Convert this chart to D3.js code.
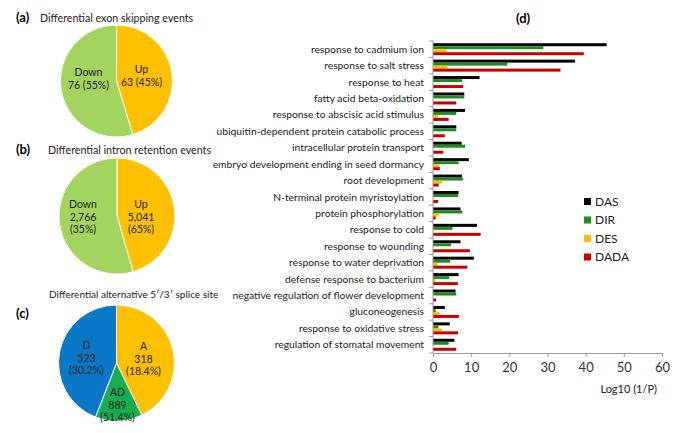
<!DOCTYPE html>
<html>
<head>
<meta charset="utf-8">
<script src="https://cdn.jsdelivr.net/npm/d3@7"></script>
<style>
  body { margin: 0; background: #fff; }
  svg { font-family: Lato, "Open Sans", sans-serif; }
</style>
</head>
<body>
<div id="chart"></div>
<script>
// panel (d) data
var terms = ["response to cadmium ion", "response to salt stress", "response to heat",
    "fatty acid beta-oxidation", "response to abscisic acid stimulus",
    "ubiquitin-dependent protein catabolic process", "intracellular protein transport",
    "embryo development ending in seed dormancy", "root development",
    "N-terminal protein myristoylation", "protein phosphorylation", "response to cold",
    "response to wounding", "response to water deprivation", "defense response to bacterium",
    "negative regulation of flower development", "gluconeogenesis",
    "response to oxidative stress", "regulation of stomatal movement"];
var seriesNames = ["DAS", "DIR", "DES", "DADA"];
var das  = [45.5, 37.2, 12.2, 8.2, 8.4, 6.1, 7.5, 9.4, 7.6, 6.7, 7.2, 11.5, 7.2, 10.7, 6.7, 5.9, 3.1, 4.4, 5.6];
var dir  = [28.9, 19.5, 7.6, 8.2, 6.1, 6.1, 8.4, 6.7, 7.8, 6.6, 7.7, 5.1, 4.7, 4.5, 4.2, 6.1, 0.7, 1.4, 4.1];
var des  = [3.5, 3.7, 0, 0, 1.3, 0, 0, 1.6, 2.4, 0, 1.6, 0, 0, 1.2, 0.7, 0, 1.6, 2.4, 0];
var dada = [39.5, 33.4, 7.9, 6.1, 4.1, 3.1, 2.7, 1.8, 1.5, 1.3, 0.7, 12.5, 9.7, 9.0, 6.5, 0.8, 6.8, 6.6, 6.1];
var xTicks = [0, 10, 20, 30, 40, 50, 60];

// pie panels: label text, and slice shares as drawn
var pieA = ["Up", "Down"], pieAText = [["Up", "63 (45%)"], ["Down", "76 (55%)"]], pieAShare = [63, 76];
var pieB = ["Up", "Down"], pieBText = [["Up", "5,041", "(65%)"], ["Down", "2,766", "(35%)"]], pieBShare = [45.5, 54.5];
var pieC = ["A", "AD", "D"], pieCText = [["A", "318", "(18.4%)"], ["AD", "889", "(51.4%)"], ["D", "523", "(30.2%)"]], pieCShare = [42.8, 13.1, 44.1];

var W = 685, H = 433;
var svg = d3.select("#chart").append("svg")
    .attr("width", W)
    .attr("height", H);

var pieColors = {Up: "#ffc000", Down: "#a3d45e", A: "#ffc000", AD: "#18ad4f", D: "#0a78c6"};

function drawPie(cx, cy, r, names, shares, texts, labelPos) {
    var g = svg.append("g").attr("transform", "translate(" + cx + "," + cy + ")");
    var pie = d3.pie().sort(null).value(function(d) { return d; });
    var arc = d3.arc().innerRadius(0).outerRadius(r);
    g.selectAll("path")
        .data(pie(shares))
        .enter().append("path")
        .attr("d", arc)
        .attr("fill", function(d, i) { return pieColors[names[i]]; })
        .attr("stroke", "#fff")
        .attr("stroke-width", 1);
    texts.forEach(function(lines, i) {
        var t = g.append("text")
            .attr("text-anchor", "middle")
            .style("font-size", "10.5px")
            .attr("fill", "#222");
        lines.forEach(function(l, j) {
            t.append("tspan")
                .attr("x", labelPos[i][0])
                .attr("y", labelPos[i][1] + j * 12.5)
                .text(l);
        });
    });
}

function panelTitle(x, y, letter, tx, title) {
    svg.append("text").attr("x", x).attr("y", y)
        .style("font-size", "13px").style("font-weight", "bold").text(letter);
    svg.append("text").attr("x", tx).attr("y", y)
        .style("font-size", "10.7px").attr("fill", "#222").text(title);
}

panelTitle(16, 22, "(a)", 40, "Differential exon skipping events");
drawPie(116.5, 81, 56, pieA, pieAShare, pieAText, [[25, -8], [-28, -5]]);

panelTitle(16, 154, "(b)", 48, "Differential intron retention events");
drawPie(117, 216, 58, pieB, pieBShare, pieBText, [[24, -8], [-34, -8]]);

svg.append("text").attr("x", 16).attr("y", 318)
    .style("font-size", "13px").style("font-weight", "bold").text("(c)");
svg.append("text").attr("x", 49).attr("y", 298)
    .style("font-size", "10px").attr("fill", "#222").text("Differential alternative 5\u2032/3\u2032 splice site");
drawPie(116.5, 363, 58, pieC, pieCShare, pieCText, [[27, -13], [1, 33], [-30, -14]]);

// panel (d)
svg.append("text").attr("x", 516).attr("y", 23)
    .style("font-size", "13px").style("font-weight", "bold").text("(d)");

var plotLeft = 433, plotRight = 662, plotTop = 41, plotBottom = 353;
var x = d3.scaleLinear().domain([0, 60]).range([plotLeft, plotRight]);
var y = d3.scaleBand().domain(terms).range([plotTop, plotBottom])
    .paddingInner(0.27).paddingOuter(0.135);
var ySub = d3.scaleBand().domain(seriesNames).range([0, y.bandwidth()]);
var barColors = d3.scaleOrdinal().domain(seriesNames)
    .range(["#000000", "#1f8c1f", "#ffc000", "#c80000"]);

var rows = terms.map(function(t, i) {
    return {term: t, values: [das[i], dir[i], des[i], dada[i]]};
});

var groups = svg.append("g").selectAll("g")
    .data(rows)
    .enter().append("g")
    .attr("transform", function(d) { return "translate(0," + y(d.term) + ")"; });

groups.selectAll("rect")
    .data(function(d) {
        return d.values.map(function(v, i) { return {s: seriesNames[i], v: v}; });
    })
    .enter().append("rect")
    .attr("x", x(0))
    .attr("y", function(d) { return ySub(d.s); })
    .attr("width", function(d) { return x(d.v) - x(0); })
    .attr("height", ySub.bandwidth())
    .attr("fill", function(d) { return barColors(d.s); });

// y axis with ticks between categories
var yAxisG = svg.append("g");
yAxisG.append("line")
    .attr("x1", plotLeft).attr("x2", plotLeft).attr("y1", plotTop).attr("y2", plotBottom)
    .attr("stroke", "#999");
var step = y.step();
d3.range(terms.length + 1).forEach(function(i) {
    yAxisG.append("line")
        .attr("x1", plotLeft - 4).attr("x2", plotLeft)
        .attr("y1", plotTop + i * step).attr("y2", plotTop + i * step)
        .attr("stroke", "#999");
});
yAxisG.selectAll("text.cat")
    .data(terms)
    .enter().append("text")
    .attr("class", "cat")
    .attr("x", plotLeft - 9)
    .attr("y", function(d) { return y(d) + y.bandwidth() / 2 + 3.5; })
    .attr("text-anchor", "end")
    .style("font-size", "10.3px")
    .attr("fill", "#222")
    .text(function(d) { return d; });

var xAxis = svg.append("g")
    .attr("transform", "translate(0," + plotBottom + ")")
    .call(d3.axisBottom(x).tickValues(xTicks).tickSize(4).tickSizeOuter(0));
xAxis.select(".domain").attr("stroke", "#999");
xAxis.selectAll(".tick line").attr("stroke", "#999");
xAxis.selectAll(".tick text")
    .attr("dy", "0.9em")
    .style("font-size", "13px")
    .style("font-family", "Lato, sans-serif")
    .attr("fill", "#333");

svg.append("text")
    .attr("x", 657).attr("y", 393)
    .attr("text-anchor", "end")
    .style("font-size", "11px")
    .attr("fill", "#222")
    .text("Log10 (1/P)");

// legend
var legend = svg.append("g").attr("transform", "translate(584,198)");
var legEnts = legend.selectAll("g")
    .data(seriesNames)
    .enter().append("g")
    .attr("transform", function(d, i) { return "translate(0," + (i * 18.5) + ")"; });
legEnts.append("rect")
    .attr("width", 7).attr("height", 7)
    .attr("fill", function(d) { return barColors(d); });
legEnts.append("text")
    .attr("x", 11).attr("y", 7.5)
    .style("font-size", "12px")
    .attr("fill", "#222")
    .text(function(d) { return d; });
</script>
</body>
</html>
